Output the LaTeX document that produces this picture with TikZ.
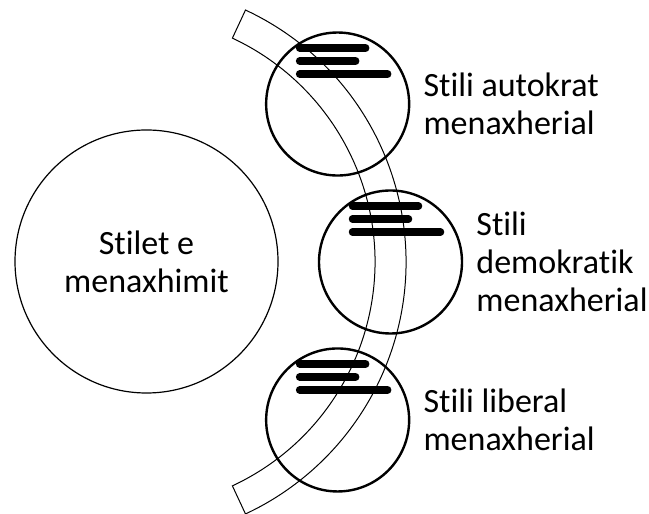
\documentclass[tikz,border=0pt]{standalone}
\usepackage{fontspec}
\setmainfont[Ligatures=NoCommon]{Carlito}
\usetikzlibrary{positioning,calc}

\tikzset{
    hub/.style={draw, circle, line width=1.2bp, minimum size=263bp, inner sep=0pt, align=center},
    ring/.style={draw, circle, line width=2.4bp, minimum size=143bp, inner sep=0pt},
    caption/.style={inner sep=0pt, align=left},
    band/.style={draw, line width=1bp, line join=miter},
    blob/.style={line width=7.5bp, line cap=round}
}

\begin{document}
\begin{tikzpicture}[x=1bp, y=1bp, font=\fontsize{34bp}{38bp}\selectfont]
    \useasboundingbox (0,0) rectangle (649,514);

    % curved band behind the three circles
    \coordinate (o) at (128,252);
    \draw[band] ($(o)+(65:278)$) arc (65:-65:278) -- ($(o)+(-65:247)$) arc (-65:65:247) -- cycle;

    % main circle
    \node[hub] (stilet) at (146.5,252.5) {Stilet e\\menaxhimit};

    % the three styles along the band
    \node[ring] (autokrat) at ($(o)+(37:262.5)$) {};
    \node[ring] (demokratik) at ($(o)+(0:262.5)$) {};
    \node[ring] (liberal) at ($(o)+(-37:262.5)$) {};

    \node[caption, right=13bp of autokrat] (autokratTxt) {Stili autokrat\\menaxherial};
    \node[caption, right=13bp of demokratik] (demokratikTxt) {Stili\\demokratik\\menaxherial};
    \node[caption, right=13bp of liberal] (liberalTxt) {Stili liberal\\menaxherial};

    % smeared placeholder lines in each circle
    \foreach \c in {autokrat,demokratik,liberal} {
        \foreach \dy/\len in {56/66, 43/56, 30/88} {
            \draw[blob] ($(\c)+(-38,\dy)$) -- ++(\len,0);
        }
    }
\end{tikzpicture}
\end{document}
